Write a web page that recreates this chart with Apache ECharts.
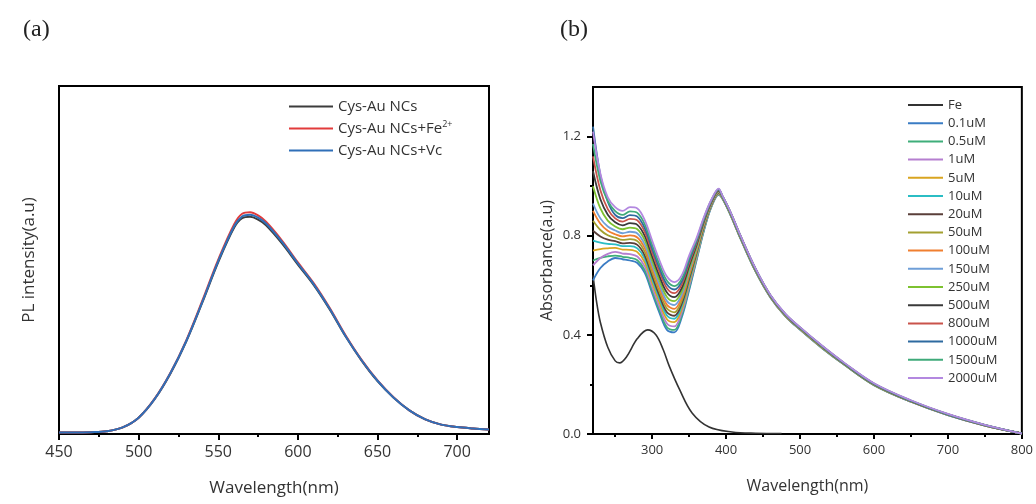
<!DOCTYPE html>
<html><head><meta charset="utf-8">
<script src="https://cdn.jsdelivr.net/npm/echarts@6/dist/echarts.min.js"></script>
<style>html,body{margin:0;padding:0;background:#fff}#c{width:1036px;height:504px}</style>
</head><body><div id="c"></div>
<script>
// ---------- Panel (a): PL spectra ----------
const wlA = [450,460,470,480,490,500,510,520,530,540,550,560,565,570,575,580,590,600,610,620,630,640,650,660,670,680,690,700,710,720];
const plBlack = [0.004,0.004,0.005,0.008,0.019,0.047,0.100,0.174,0.267,0.378,0.494,0.593,0.620,0.624,0.616,0.600,0.548,0.487,0.428,0.358,0.280,0.211,0.152,0.105,0.068,0.042,0.027,0.020,0.016,0.013];
const plRed   = [0.004,0.004,0.005,0.008,0.019,0.047,0.101,0.176,0.270,0.383,0.501,0.603,0.633,0.637,0.628,0.610,0.556,0.493,0.433,0.362,0.283,0.213,0.154,0.106,0.068,0.042,0.027,0.020,0.016,0.013];
const plBlue  = [0.004,0.004,0.005,0.008,0.019,0.047,0.100,0.175,0.268,0.380,0.497,0.597,0.625,0.630,0.622,0.605,0.552,0.490,0.430,0.360,0.281,0.212,0.153,0.105,0.068,0.042,0.027,0.020,0.016,0.013];
const namesA = ['Cys-Au NCs','Cys-Au NCs+Fe2+','Cys-Au NCs+Vc'];
const xTicksA = [450,500,550,600,650,700];
const xMinorA = [475,525,575,625,675];

// ---------- Panel (b): absorbance ----------
const wlFe = [220,225,230,240,250,256,265,280,294,305,315,323,337,354,377,408,440,475];
const absFe = [0.64,0.53,0.45,0.35,0.295,0.287,0.31,0.385,0.42,0.40,0.34,0.275,0.18,0.085,0.028,0.008,0.003,0.002];
const wlB = [220,230,240,250,260,270,280,290,300,310,320,330,340,350,360,370,380,390,395,405,420,440,460,480,500,530,560,600,650,700,750,800];
const c0_1  = [0.62,0.67,0.696,0.71,0.705,0.70,0.69,0.65,0.568,0.488,0.42,0.41,0.47,0.58,0.70,0.82,0.915,0.965, 0.95,0.89,0.785,0.655,0.551,0.476,0.421,0.346,0.279,0.197,0.13,0.076,0.034,0.002];
const c0_5  = [0.70,0.711,0.717,0.72,0.715,0.711,0.701,0.661,0.579,0.499,0.431,0.42,0.479,0.587,0.705,0.823,0.917,0.966, 0.95,0.89,0.785,0.655,0.551,0.476,0.421,0.346,0.279,0.197,0.13,0.076,0.034,0.002];
const c1    = [0.68,0.71,0.727,0.735,0.728,0.726,0.716,0.676,0.593,0.513,0.446,0.434,0.49,0.597,0.711,0.827,0.919,0.968, 0.951,0.891,0.786,0.656,0.552,0.477,0.422,0.347,0.28,0.198,0.13,0.076,0.034,0.002];
const c5    = [0.74,0.746,0.749,0.751,0.744,0.743,0.734,0.693,0.61,0.53,0.463,0.451,0.504,0.608,0.718,0.831,0.921,0.97, 0.952,0.892,0.787,0.657,0.553,0.478,0.423,0.348,0.28,0.198,0.131,0.077,0.034,0.002];
const c10   = [0.78,0.772,0.767,0.765,0.758,0.758,0.749,0.708,0.625,0.545,0.478,0.465,0.516,0.618,0.724,0.835,0.923,0.972, 0.953,0.893,0.788,0.658,0.554,0.479,0.424,0.349,0.281,0.199,0.131,0.077,0.035,0.002];
const c20   = [0.82,0.797,0.784,0.778,0.769,0.771,0.763,0.72,0.638,0.558,0.491,0.477,0.526,0.626,0.73,0.838,0.925,0.973, 0.955,0.895,0.79,0.66,0.555,0.48,0.425,0.35,0.282,0.2,0.132,0.078,0.035,0.002];
const c50   = [0.86,0.823,0.802,0.792,0.783,0.786,0.778,0.735,0.653,0.573,0.506,0.491,0.538,0.636,0.736,0.842,0.927,0.975, 0.955,0.895,0.79,0.66,0.555,0.48,0.425,0.35,0.282,0.2,0.132,0.078,0.035,0.002];
const c100  = [0.90,0.848,0.82,0.806,0.797,0.801,0.793,0.75,0.668,0.588,0.521,0.505,0.55,0.646,0.742,0.846,0.929,0.977, 0.956,0.896,0.791,0.661,0.556,0.481,0.426,0.351,0.283,0.201,0.132,0.078,0.035,0.002];
const c150  = [0.93,0.87,0.837,0.821,0.81,0.816,0.809,0.765,0.682,0.602,0.536,0.52,0.562,0.656,0.749,0.85,0.931,0.978, 0.957,0.897,0.792,0.662,0.557,0.482,0.427,0.352,0.283,0.201,0.133,0.078,0.035,0.002];
const c250  = [1.00,0.91,0.861,0.837,0.826,0.833,0.826,0.782,0.699,0.619,0.553,0.536,0.575,0.667,0.756,0.854,0.934,0.98, 0.958,0.898,0.793,0.663,0.558,0.483,0.428,0.352,0.284,0.202,0.133,0.079,0.036,0.002];
const c500  = [1.06,0.947,0.885,0.854,0.842,0.851,0.844,0.799,0.716,0.636,0.571,0.552,0.589,0.678,0.763,0.859,0.936,0.982, 0.959,0.899,0.794,0.664,0.558,0.483,0.428,0.353,0.284,0.202,0.133,0.079,0.036,0.002];
const c800  = [1.12,0.983,0.907,0.87,0.857,0.868,0.862,0.816,0.733,0.653,0.588,0.568,0.603,0.689,0.77,0.863,0.938,0.984, 0.96,0.9,0.795,0.665,0.559,0.484,0.429,0.354,0.285,0.203,0.134,0.079,0.036,0.002];
const c1000 = [1.24,1.044,0.937,0.884,0.871,0.883,0.877,0.831,0.748,0.668,0.603,0.583,0.615,0.699,0.777,0.867,0.941,0.986, 0.96,0.9,0.795,0.665,0.559,0.484,0.429,0.354,0.285,0.203,0.134,0.079,0.036,0.002];
const c1500 = [1.17,1.021,0.94,0.899,0.884,0.898,0.892,0.846,0.763,0.683,0.618,0.597,0.626,0.709,0.783,0.871,0.943,0.988, 0.961,0.901,0.796,0.666,0.56,0.485,0.43,0.355,0.286,0.204,0.135,0.08,0.037,0.002];
const c2000 = [1.22,1.05,0.955,0.915,0.90,0.915,0.91,0.863,0.78,0.70,0.635,0.613,0.64,0.72,0.79,0.875,0.945,0.99, 0.962,0.902,0.797,0.667,0.561,0.486,0.431,0.356,0.287,0.205,0.136,0.081,0.037,0.002];
const namesB = ['Fe','0.1uM','0.5uM','1uM','5uM','10uM','20uM','50uM','100uM','150uM','250uM','500uM','800uM','1000uM','1500uM','2000uM'];
const concData = [c0_1,c0_5,c1,c5,c10,c20,c50,c100,c150,c250,c500,c800,c1000,c1500,c2000];
const xTicksB = [300,400,500,600,700,800];
const xMinorB = [250,350,450,550,650,750];
const yTicksB = [0,0.4,0.8,1.2];
const yMinorB = [0.2,0.6,1.0];

// ---------- styles ----------
const colorsA = ['#3c3c3c','#e23b3b','#2f6fb8'];
const colorsB = ['#333333','#3a7cc4','#3fae7a','#b57fd0','#d9a520','#2bbdc4','#5a3f3a','#a3a030','#f07f30','#6f9fd8','#7dc230','#3a3a3a','#c9534b','#2e6aa0','#3faa7a','#b388e0'];
const FONT = 'Open Sans';
const TXT = '#333';
const SMOOTH = 0.35;

const pairs = (xs, ys) => xs.map((x, i) => [x, ys[i]]);

const series = [];
[plBlack, plRed, plBlue].forEach((arr, i) => {
  series.push({name: namesA[i], type: 'line', xAxisIndex: 0, yAxisIndex: 0, data: pairs(wlA, arr),
    showSymbol: false, smooth: SMOOTH, lineStyle: {width: 2, color: colorsA[i]}, itemStyle: {color: colorsA[i]}});
});
series.push({name: namesB[0], type: 'line', xAxisIndex: 2, yAxisIndex: 1, data: pairs(wlFe, absFe),
  showSymbol: false, smooth: SMOOTH, lineStyle: {width: 1.6, color: colorsB[0]}, itemStyle: {color: colorsB[0]}});
concData.forEach((arr, i) => {
  series.push({name: namesB[i + 1], type: 'line', xAxisIndex: 2, yAxisIndex: 1, data: pairs(wlB, arr),
    showSymbol: false, smooth: SMOOTH, lineStyle: {width: 1.8, color: colorsB[i + 1]}, itemStyle: {color: colorsB[i + 1]}});
});

const axLine = {show: true, onZero: false, lineStyle: {color: '#000', width: 2}};
const option = {
  animation: false,
  backgroundColor: '#fff',
  title: [
    {text: '(a)', left: 18, top: 13, textStyle: {fontFamily: 'Liberation Serif', fontSize: 24, fontWeight: 'normal', color: '#222'}},
    {text: '(b)', left: 555, top: 13, textStyle: {fontFamily: 'Liberation Serif', fontSize: 24, fontWeight: 'normal', color: '#222'}}
  ],
  grid: [
    {left: 59, right: 547, top: 86, bottom: 70, show: true, borderColor: '#000', borderWidth: 2, backgroundColor: 'transparent'},
    {left: 593, right: 13, top: 87, bottom: 70, show: true, borderColor: '#000', borderWidth: 2, backgroundColor: 'transparent'}
  ],
  legend: [
    {data: namesA, orient: 'vertical', left: 284, top: 93, icon: 'rect', itemWidth: 44, itemHeight: 2, itemGap: 5,
     textStyle: {fontFamily: FONT, fontSize: 15, color: TXT, lineHeight: 17,
       rich: {n: {fontFamily: FONT, fontSize: 15, color: TXT, lineHeight: 17},
              s: {fontFamily: FONT, fontSize: 9, color: TXT, verticalAlign: 'top', lineHeight: 10}}},
     formatter: name => name === 'Cys-Au NCs+Fe2+' ? '{n|Cys-Au NCs+Fe}{s|2+}' : '{n|' + name + '}'},
    {data: namesB, orient: 'vertical', left: 903, top: 93, icon: 'rect', itemWidth: 35, itemHeight: 2, itemGap: 4.2,
     textStyle: {fontFamily: FONT, fontSize: 13, color: TXT, lineHeight: 14}}
  ],
  xAxis: [
    {type: 'value', gridIndex: 0, position: 'bottom', min: 450, max: 720, axisLine: axLine, splitLine: {show: false},
     axisTick: {show: true, inside: false, length: 6, customValues: xTicksA, lineStyle: {color: '#000', width: 2}},
     axisLabel: {customValues: xTicksA, margin: 10, fontFamily: FONT, fontSize: 16, color: TXT},
     name: 'Wavelength(nm)', nameLocation: 'middle', nameGap: 46, nameTextStyle: {fontFamily: FONT, fontSize: 17, color: TXT}},
    {type: 'value', gridIndex: 0, position: 'bottom', min: 450, max: 720, axisLine: {show: false}, splitLine: {show: false},
     axisTick: {show: true, length: 3, customValues: xMinorA, lineStyle: {color: '#000', width: 2}},
     axisLabel: {show: false}},
    {type: 'value', gridIndex: 1, position: 'bottom', min: 220, max: 800, axisLine: axLine, splitLine: {show: false},
     axisTick: {show: true, length: 5, customValues: xTicksB, lineStyle: {color: '#000', width: 2}},
     axisLabel: {customValues: xTicksB, margin: 10, fontFamily: FONT, fontSize: 13, color: TXT},
     name: 'Wavelength(nm)', nameLocation: 'middle', nameGap: 44, nameTextStyle: {fontFamily: FONT, fontSize: 16, color: TXT}},
    {type: 'value', gridIndex: 1, position: 'bottom', min: 220, max: 800, axisLine: {show: false}, splitLine: {show: false},
     axisTick: {show: true, length: 3, customValues: xMinorB, lineStyle: {color: '#000', width: 2}},
     axisLabel: {show: false}}
  ],
  yAxis: [
    {type: 'value', gridIndex: 0, position: 'left', min: 0, max: 1, axisLine: axLine, splitLine: {show: false},
     axisTick: {show: false}, axisLabel: {show: false},
     name: 'PL intensity(a.u)', nameLocation: 'middle', nameGap: 21, nameTextStyle: {fontFamily: FONT, fontSize: 17, color: TXT}},
    {type: 'value', gridIndex: 1, position: 'left', min: 0, max: 1.4, axisLine: axLine, splitLine: {show: false},
     axisTick: {show: true, length: 6, customValues: yTicksB, lineStyle: {color: '#000', width: 2}},
     axisLabel: {customValues: yTicksB, margin: 12, fontFamily: FONT, fontSize: 13, color: TXT, formatter: v => v.toFixed(1)},
     name: 'Absorbance(a.u)', nameLocation: 'middle', nameGap: 38, nameTextStyle: {fontFamily: FONT, fontSize: 16, color: TXT}},
    {type: 'value', gridIndex: 1, position: 'left', min: 0, max: 1.4, axisLine: {show: false}, splitLine: {show: false},
     axisTick: {show: true, length: 3, customValues: yMinorB, lineStyle: {color: '#000', width: 2}},
     axisLabel: {show: false}}
  ],
  series: series
};
const chart = echarts.init(document.getElementById('c'), null, {renderer: 'canvas'});
chart.setOption(option);
</script>
</body></html>
